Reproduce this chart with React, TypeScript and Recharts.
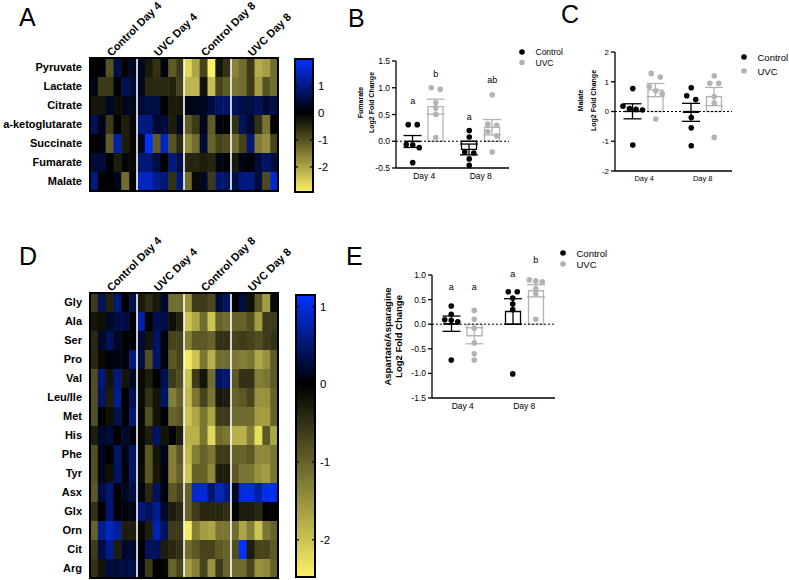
import React from 'react';
import {
  Bar,
  BarChart,
  ComposedChart,
  ErrorBar,
  Line,
  ReferenceDot,
  ReferenceLine,
  Scatter,
  ScatterChart,
  XAxis,
  YAxis,
} from 'recharts';

const FONT = '"Liberation Sans", Arial, Helvetica, sans-serif';
const GRAY = '#b3b3b3';
const BLUE = [0, 51, 255];
const YELLOW = [252, 242, 104];

// heat map columns: 4 groups x 6 samples
const groups = ['Control Day 4', 'UVC Day 4', 'Control Day 8', 'UVC Day 8'];
const samplesPerGroup = 6;
const scaleTicks = [1, 0, -1, -2];

// panel A - TCA intermediates (log2 fold change)
const tcaNames = ['Pyruvate', 'Lactate', 'Citrate', 'a-ketoglutarate', 'Succinate', 'Fumarate', 'Malate'];
const pyruvate = [0, 0.05, -1.0, 0.55, -0.05, 0.3, 0.25, -0.3, -0.6, 0.1, -1.1, -0.7, -2.6, -2.0, -0.8, -2.9, -0.25, -0.6, -1.6, -1.3, -0.7, -2.1, -1.9, -1.3];
const lactate = [0.2, -0.7, -0.7, 0, 0.6, 0.45, 0.2, -0.5, -0.5, -0.5, -0.4, -0.8, -2.2, -2.2, -0.2, -2.3, -0.8, -1.1, -1.4, -1.3, -0.7, -1.9, -1.0, -1.3];
const citrate = [-0.25, -0.25, 0.3, -0.15, 0.2, 0.2, 0.4, 0.5, 0.5, 0, -0.3, -0.3, 0.15, 0.2, 0.25, 0.45, 0.8, 0.8, 0.7, 0.55, 0.55, 0.7, 0.4, 0.55];
const aKetoglutarate = [0.7, 0.2, -0.7, 0, -0.35, -0.1, 1.0, 1.0, 0.35, 0.45, -0.35, 0.2, -1.1, -0.7, 0.2, -1.1, 0.05, 0, -0.6, 0.7, 0.35, -0.6, -1.4, 0];
const succinate = [0, 0.1, -1.1, 1.3, -0.35, -0.1, 0.2, 1.95, -1.1, 1.5, -1.0, -0.5, -1.7, -1.3, 0.45, -1.2, -0.8, -0.9, -1.3, -0.8, 0.9, -1.5, -1.7, -0.8];
const fumarateRow = [0.45, 0.45, 0, -0.35, -0.05, -0.1, 0.9, 0.9, 0.55, 0, 1.0, 0.55, -0.45, -0.45, -0.35, -0.45, 0.15, 0.05, -0.3, 0.15, 0.05, 0.45, 0.8, 0.5];
const malateRow = [1.0, 0, 0, 0.2, -1.3, 0, 1.5, 1.5, 1.1, 0.9, -0.6, 0.9, -1.3, -0.1, 0.3, -0.7, 0.9, 0.8, 0.55, 1.0, 1.0, 0.45, -0.9, 1.6];
const tcaMatrix = [pyruvate, lactate, citrate, aKetoglutarate, succinate, fumarateRow, malateRow];
const tcaRange: [number, number] = [-2.93, 2.0];

// panel D - amino acids
const aaNames = ['Gly', 'Ala', 'Ser', 'Pro', 'Val', 'Leu/Ile', 'Met', 'His', 'Phe', 'Tyr', 'Asx', 'Glx', 'Orn', 'Cit', 'Arg'];
const gly = [-0.6, 0.4, -0.35, 0.55, 0, 0.35, -0.25, -0.45, -0.25, 0.2, -1.1, -1.1, -1.5, -0.6, -0.6, -0.75, 0.25, 0.45, 0, 0.3, -0.15, -0.9, -1.6, -0.1];
const ala = [-0.2, -0.15, 0.2, 0.3, 0.3, 0, 0.75, 0, 0.35, 0.3, -0.15, -0.35, -2.0, -1.7, -1.1, -2.0, -1.0, -1.1, -1.0, -1.0, -0.8, -1.6, -0.6, -0.6];
const ser = [-0.4, 0.2, 0.4, 0.15, 0, 0, 0.25, -0.2, 0.45, 0.05, -0.7, -0.7, -1.3, -0.9, -0.9, -1.0, -0.5, -0.5, -0.7, -0.6, -0.7, -0.8, -0.6, -0.5];
const pro = [-0.4, -0.1, 0.05, 0.1, 0.05, 0.55, 0.3, -0.8, 0.45, 0.05, -0.9, -0.7, -2.4, -2.0, -1.2, -1.8, -1.1, -1.1, -1.2, -1.3, -1.2, -1.7, -1.5, -0.9];
const val = [-0.8, 0.55, -0.2, 0.55, -0.2, 0.15, -0.1, -0.3, 0, 0.35, -0.6, -0.8, -2.0, -0.6, -0.2, -1.1, 0.45, 0.5, -0.9, -0.5, -0.5, -1.3, -1.2, -0.9];
const leuIle = [-0.8, 0.45, -0.3, 0.65, 0, 0.35, -0.1, -0.5, -0.2, 0.45, -1.3, -1.0, -1.9, -1.2, -0.7, -1.2, -0.25, -0.3, -1.0, -0.9, -0.7, -1.5, -1.5, -1.0];
const met = [-0.8, 0, -0.15, 0.35, 0.05, 0.5, -0.05, -0.8, -0.2, 0, -1.0, -0.9, -2.0, -1.7, -1.2, -1.7, -0.6, -0.6, -1.1, -1.1, -1.1, -1.6, -1.6, -1.0];
const his = [-0.3, 0.2, 0.25, 0, 0.2, 0.05, -0.05, -0.3, 0.45, -0.2, 0, -0.3, -1.8, -1.8, -1.2, -2.2, -1.1, -1.2, -1.8, -1.8, -1.3, -2.3, -0.9, -1.7];
const phe = [-0.8, 0.15, 0, 0.45, 0.1, 0.45, -0.05, -0.9, -0.2, 0.1, -1.3, -0.9, -1.9, -1.3, -1.0, -1.2, -0.6, -0.6, -1.0, -1.0, -0.9, -1.4, -1.4, -1.2];
const tyr = [-0.8, 0.15, -0.15, 0.45, 0.05, 0.45, -0.1, -0.9, -0.25, 0.05, -1.3, -1.0, -2.0, -1.0, -1.0, -1.4, -0.3, -0.3, -0.9, -1.2, -1.2, -1.5, -1.6, -1.2];
const asx = [-0.9, 0.3, 0.5, 0, 0.15, 0.3, 0.05, -0.4, 0.4, 0.05, -0.9, -0.7, -1.0, 0.9, 0.95, 0.5, 0.85, 0.6, 0.15, 1.0, 1.0, 0.75, 1.05, 1.05];
const glx = [-0.5, 0, 0.5, 0, 0.05, 0.1, 0.55, 0.4, 0.65, 0.2, -0.3, -0.4, -1.0, -0.6, -0.4, -0.4, -0.4, -0.5, 0, -0.3, -0.3, -0.4, -0.05, 0];
const orn = [-1.0, 0.65, 0.85, 0.7, -0.3, -0.3, -0.05, -0.3, 0.8, 0.4, -0.6, -0.6, -2.4, -1.3, -1.6, -1.7, -1.2, -1.2, -1.1, -1.7, -1.3, -2.0, -1.2, -1.0];
const cit = [-0.6, 0.3, 0.65, -0.3, 0.2, 0.2, 0, 0.4, 0.4, -0.3, -0.4, -0.5, -1.1, -0.9, -0.7, -0.7, -0.9, -1.0, -0.8, 1.15, -0.3, -0.7, -0.7, -0.9];
const arg = [-0.5, -0.2, 0.3, 0.25, 0.3, 0.3, 0.05, -0.6, 0, -0.05, -1.0, -0.7, -1.6, -1.3, -0.7, -1.5, -0.6, -1.0, -1.1, -1.1, -0.7, -1.5, -1.4, -1.0];
const aaMatrix = [gly, ala, ser, pro, val, leuIle, met, his, phe, tyr, asx, glx, orn, cit, arg];
const aaRange: [number, number] = [-2.48, 1.15];

// dot/bar panels: one array per day
const days = ['Day 4', 'Day 8'];
const seriesNames = ['Control', 'UVC'];

const fumControl = [[0.31, 0.31, -0.06, -0.07, -0.12, -0.4], [0.2, 0.08, -0.2, -0.22, -0.33, -0.45]];
const fumUvc = [[1.0, 0.97, 0.72, 0.62, 0.5, 0.07], [0.87, 0.32, 0.3, 0.18, 0.1, -0.2]];
const fumLettersControl = ['a', 'a'];
const fumLettersUvc = ['b', 'ab'];
const fumLetterYControl = [0.75, 0.45];
const fumLetterYUvc = [1.25, 1.14];

const malControl = [[0.77, 0.18, 0.1, 0.07, 0.05, -1.13], [0.8, 0.53, 0.4, -0.2, -0.55, -1.15]];
const malUvc = [[1.28, 1.16, 0.83, 0.7, 0.6, -0.25], [1.2, 0.95, 0.95, 0.5, 0.28, -0.87]];

const aspControl = [[0.37, 0.2, 0.09, 0.08, 0.05, -0.73], [0.66, 0.66, 0.53, 0.41, 0.3, -1.01]];
const aspUvc = [[0.28, 0.1, -0.08, -0.38, -0.6, -0.73], [0.9, 0.88, 0.86, 0.72, 0.62, 0.1]];
const aspLettersControl = ['a', 'a'];
const aspLettersUvc = ['a', 'b'];
const aspLetterYControl = [0.75, 1.03];
const aspLetterYUvc = [0.75, 1.3];

function mix(c: number[], t: number) {
  return `rgb(${c.map((k) => Math.round(k * t)).join(',')})`;
}

function heatColor(v: number, lo: number, hi: number) {
  return v >= 0 ? mix(BLUE, Math.min(v / hi, 1)) : mix(YELLOW, Math.min(v / lo, 1));
}

const mean = (a: number[]) => a.reduce((s, v) => s + v, 0) / a.length;
const sem = (a: number[]) => {
  const m = mean(a);
  const sd = Math.sqrt(a.reduce((s, v) => s + (v - m) ** 2, 0) / (a.length - 1));
  return sd / Math.sqrt(a.length);
};

// horizontal spread for points that would overlap
function spread(values: number[], tol: number) {
  const order = values.map((_, i) => i).sort((a, b) => values[b] - values[a]);
  const off = values.map(() => 0);
  let start = 0;
  for (let k = 1; k <= order.length; k++) {
    if (k === order.length || values[order[k - 1]] - values[order[k]] > tol) {
      const n = k - start;
      const step = n === 2 ? 9 : 6.5;
      for (let j = start; j < k; j++) off[order[j]] = (j - start - (n - 1) / 2) * step;
      start = k;
    }
  }
  return off;
}

function GroupTick(props: any) {
  const { x, y, payload } = props;
  const g = Math.floor(payload.value / samplesPerGroup);
  return (
    <text
      transform={`translate(${x - 2},${y + 1}) rotate(-45)`}
      fontSize={11}
      fontWeight={700}
      fontFamily={FONT}
      fill="#000"
    >
      {groups[g]}
    </text>
  );
}

type HeatmapProps = {
  names: string[];
  matrix: number[][];
  range: [number, number];
  left: number;
  top: number;
};

function Heatmap({ names, matrix, range, left, top }: HeatmapProps) {
  const nCols = groups.length * samplesPerGroup;
  const plotW = 188;
  const plotH = names.length * 19;
  const headH = 58;
  const labelW = 90;
  const extraRight = 60;
  const cw = plotW / nCols;
  const ch = plotH / names.length;
  const cells = matrix.flatMap((row, r) => row.map((v, c) => ({ col: c + 0.5, row: r + 0.5, v })));
  const dividers = [1, 2, 3].map((g) => ({ col: g * samplesPerGroup, row: names.length / 2 }));
  const frame = [{ col: nCols / 2, row: names.length / 2 }];

  return (
    <div style={{ position: 'absolute', left, top }}>
      <ScatterChart
        width={labelW + plotW + extraRight}
        height={headH + plotH + 2}
        margin={{ top: 0, right: extraRight, bottom: 2, left: 0 }}
      >
        <XAxis
          type="number"
          dataKey="col"
          orientation="top"
          domain={[0, nCols]}
          ticks={groups.map((_, i) => (i + 0.5) * samplesPerGroup)}
          interval={0}
          height={headH}
          axisLine={false}
          tickLine={false}
          tickSize={0}
          tick={(p: any) => <GroupTick {...p} />}
        />
        <YAxis
          type="number"
          dataKey="row"
          domain={[0, names.length]}
          reversed
          ticks={names.map((_, i) => i + 0.5)}
          interval={0}
          width={labelW}
          axisLine={false}
          tickLine={false}
          tickSize={0}
          tickMargin={8}
          tickFormatter={(v: number) => names[Math.floor(v)]}
          tick={{ fontSize: 11, fontWeight: 700, fill: '#000', fontFamily: FONT }}
        />
        <Scatter
          data={cells}
          isAnimationActive={false}
          shape={(p: any) => (
            <rect
              x={p.cx - cw / 2}
              y={p.cy - ch / 2}
              width={cw + 0.5}
              height={ch + 0.5}
              fill={heatColor(p.payload.v, range[0], range[1])}
            />
          )}
        />
        <Scatter
          data={dividers}
          isAnimationActive={false}
          shape={(p: any) => (
            <line x1={p.cx} x2={p.cx} y1={p.cy - plotH / 2} y2={p.cy + plotH / 2} stroke="#fff" strokeWidth={1.6} />
          )}
        />
        <Scatter
          data={frame}
          isAnimationActive={false}
          shape={(p: any) => (
            <rect
              x={p.cx - plotW / 2}
              y={p.cy - plotH / 2}
              width={plotW}
              height={plotH}
              fill="none"
              stroke="#000"
              strokeWidth={2}
            />
          )}
        />
      </ScatterChart>
    </div>
  );
}

type ColorBarProps = { range: [number, number]; left: number; top: number; barW: number; barH: number; id: string };

function ColorBar({ range, left, top, barW, barH, id }: ColorBarProps) {
  const [lo, hi] = range;
  const zero = hi / (hi - lo);
  const data = [{ k: 'scale', span: [lo, hi] }];
  return (
    <div style={{ position: 'absolute', left: left - 1, top: top - 1 }}>
      <BarChart
        width={barW + 1 + 34}
        height={barH + 2}
        data={data}
        margin={{ top: 1, right: 0, bottom: 1, left: 1 }}
        barCategoryGap={0}
      >
        <defs>
          <linearGradient id={id} x1="0" y1="0" x2="0" y2="1">
            <stop offset="0" stopColor={mix(BLUE, 1)} />
            <stop offset={zero} stopColor="#000" />
            <stop offset="1" stopColor={mix(YELLOW, 1)} />
          </linearGradient>
        </defs>
        <XAxis dataKey="k" hide />
        <YAxis
          orientation="right"
          type="number"
          domain={[lo, hi]}
          ticks={scaleTicks}
          interval={0}
          width={34}
          axisLine={false}
          tickLine={false}
          tickSize={0}
          tickMargin={5}
          tick={(p: any) => (
            <g>
              <line x1={p.x - 5 - barW} x2={p.x - 5 - barW + 3} y1={p.y} y2={p.y} stroke="#000" strokeWidth={1.2} />
              <line x1={p.x - 8} x2={p.x - 5} y1={p.y} y2={p.y} stroke="#000" strokeWidth={1.2} />
              <text x={p.x} y={p.y} dy="0.36em" fontSize={11.5} fontFamily={FONT} fill="#000">
                {p.payload.value}
              </text>
            </g>
          )}
        />
        <Bar dataKey="span" fill={`url(#${id})`} stroke="#000" strokeWidth={2} isAnimationActive={false} />
      </BarChart>
    </div>
  );
}

type PanelProps = {
  left: number;
  plotTop: number;
  plotW: number;
  plotH: number;
  yw: number;
  domain: [number, number];
  ticks: number[];
  decimals: number;
  ctrl: number[][];
  uvc: number[][];
  title: string[];
  titleX: number[];
  titleDy: number;
  titleFont: number;
  tickFont: number;
  catFont: number;
  letters?: { ctrl: string[]; uvc: string[]; ctrlY: number[]; uvcY: number[] };
};

function DotBarPanel(props: PanelProps) {
  const { left, plotTop, plotW, plotH, yw, domain, ticks, decimals, ctrl, uvc, title, titleX, titleDy, titleFont, tickFont, catFont, letters } = props;
  const rows = days.map((day, d) => {
    const row: Record<string, any> = {
      day,
      cMean: mean(ctrl[d]),
      cSem: sem(ctrl[d]),
      uMean: mean(uvc[d]),
      uSem: sem(uvc[d]),
    };
    ctrl[d].forEach((v, i) => (row[`c${i}`] = v));
    uvc[d].forEach((v, i) => (row[`u${i}`] = v));
    return row;
  });
  const tol = 4.5 / (plotH / (domain[1] - domain[0]));
  const cOff = ctrl.map((g) => spread(g, tol));
  const uOff = uvc.map((g) => spread(g, tol));
  const half = 11.5;
  // extra room on top so the significance letters above the axis stay visible
  const margin = { top: 24, right: 4, bottom: 0, left: 0 };
  const axisStyle = { stroke: '#000', strokeWidth: 1.3 };

  const letterLabel = (txt: string, dx: number) => ({
    content: (p: any) => (
      <text x={p.viewBox.x + dx} y={p.viewBox.y + 3} textAnchor="middle" fontSize={9} fontFamily={FONT} fill="#000">
        {txt}
      </text>
    ),
  });

  return (
    <div style={{ position: 'absolute', left, top: plotTop - margin.top }}>
      <ComposedChart
        width={yw + plotW + margin.right}
        height={margin.top + plotH + 20}
        data={rows}
        margin={margin}
        barGap={8}
        barCategoryGap={0}
      >
        <XAxis
          dataKey="day"
          height={20}
          axisLine={axisStyle}
          tickLine={false}
          tickSize={3}
          tickMargin={2}
          tick={{ fontSize: catFont, fill: '#000', fontFamily: FONT }}
        />
        <YAxis
          domain={domain}
          ticks={ticks}
          interval={0}
          width={yw}
          axisLine={axisStyle}
          tickLine={axisStyle}
          tickSize={4}
          tickMargin={2}
          tickFormatter={(v: number) => v.toFixed(decimals)}
          tick={{ fontSize: tickFont, fill: '#000', fontFamily: FONT }}
          label={{
            content: (p: any) => {
              const vb = p.viewBox;
              const cy = vb.y + vb.height / 2 + titleDy;
              return (
                <g>
                  {title.map((t, i) => (
                    <text
                      key={t}
                      transform={`translate(${vb.x + titleX[i]},${cy}) rotate(-90)`}
                      textAnchor="middle"
                      dominantBaseline="central"
                      fontSize={titleFont}
                      fontWeight={700}
                      fontFamily={FONT}
                      fill="#000"
                    >
                      {t}
                    </text>
                  ))}
                </g>
              );
            },
          }}
        />
        <ReferenceLine y={0} stroke="#000" strokeDasharray="2 2" strokeWidth={1} />
        <Bar dataKey="cMean" barSize={15} fill="none" stroke="#000" strokeWidth={1.3} isAnimationActive={false}>
          <ErrorBar dataKey="cSem" width={9} stroke="#000" strokeWidth={1.3} direction="y" />
        </Bar>
        <Bar dataKey="uMean" barSize={15} fill="none" stroke={GRAY} strokeWidth={1.3} isAnimationActive={false}>
          <ErrorBar dataKey="uSem" width={9} stroke={GRAY} strokeWidth={1.3} direction="y" />
        </Bar>
        {ctrl[0].map((_, i) => (
          <Line
            key={`c${i}`}
            dataKey={`c${i}`}
            stroke="none"
            isAnimationActive={false}
            activeDot={false}
            legendType="none"
            dot={(p: any) => (
              <circle key={`c${i}-${p.index}`} cx={p.cx - half + cOff[p.index][i]} cy={p.cy} r={2.8} fill="#000" />
            )}
          />
        ))}
        {uvc[0].map((_, i) => (
          <Line
            key={`u${i}`}
            dataKey={`u${i}`}
            stroke="none"
            isAnimationActive={false}
            activeDot={false}
            legendType="none"
            dot={(p: any) => (
              <circle key={`u${i}-${p.index}`} cx={p.cx + half + uOff[p.index][i]} cy={p.cy} r={2.8} fill={GRAY} />
            )}
          />
        ))}
        {letters &&
          days.map((day, d) => (
            <ReferenceDot
              key={`lc${d}`}
              x={day}
              y={letters.ctrlY[d]}
              r={0}
              fill="none"
              stroke="none"
              ifOverflow="visible"
              label={letterLabel(letters.ctrl[d], -half)}
            />
          ))}
        {letters &&
          days.map((day, d) => (
            <ReferenceDot
              key={`lu${d}`}
              x={day}
              y={letters.uvcY[d]}
              r={0}
              fill="none"
              stroke="none"
              ifOverflow="visible"
              label={letterLabel(letters.uvc[d], half)}
            />
          ))}
      </ComposedChart>
    </div>
  );
}

function SeriesLegend({ x, y, gap, font }: { x: number; y: number; gap: number; font: number }) {
  const colors = ['#000', GRAY];
  return (
    <svg
      style={{ position: 'absolute', left: x - 5, top: y - 8, overflow: 'visible' }}
      width={60}
      height={gap + 16}
    >
      {seriesNames.map((name, i) => (
        <g key={name}>
          <circle cx={5} cy={8 + i * gap} r={2.8} fill={colors[i]} />
          <text x={18.5} y={8 + i * gap} dominantBaseline="central" fontSize={font} fontFamily={FONT} fill="#000">
            {name}
          </text>
        </g>
      ))}
    </svg>
  );
}

export default function App() {
  return (
    <div
      style={{
        position: 'absolute',
        left: 0,
        top: 0,
        width: 789,
        height: 580,
        background: '#fff',
        overflow: 'hidden',
        fontFamily: FONT,
      }}
    >
      <Heatmap names={tcaNames} matrix={tcaMatrix} range={tcaRange} left={0} top={0} />
      <ColorBar range={tcaRange} left={295} top={59} barW={18} barH={133} id="gradA" />

      <Heatmap names={aaNames} matrix={aaMatrix} range={aaRange} left={0} top={235} />
      <ColorBar range={aaRange} left={296} top={295} barW={19} barH={282} id="gradD" />

      <DotBarPanel
        left={351}
        plotTop={61}
        plotW={113}
        plotH={107}
        yw={45}
        domain={[-0.5, 1.5]}
        ticks={[-0.5, 0, 0.5, 1, 1.5]}
        decimals={1}
        ctrl={fumControl}
        uvc={fumUvc}
        title={['Fumarate', 'Log2 Fold Change']}
        titleX={[9, 20]}
        titleDy={-12}
        titleFont={7}
        tickFont={8.5}
        catFont={8.5}
        letters={{ ctrl: fumLettersControl, uvc: fumLettersUvc, ctrlY: fumLetterYControl, uvcY: fumLetterYUvc }}
      />
      <SeriesLegend x={522} y={52} gap={10.5} font={8.5} />

      <DotBarPanel
        left={570}
        plotTop={52}
        plotW={117}
        plotH={119}
        yw={45}
        domain={[-2, 2]}
        ticks={[-2, -1, 0, 1, 2]}
        decimals={0}
        ctrl={malControl}
        uvc={malUvc}
        title={['Malate', 'Log2 Fold Change']}
        titleX={[10, 23]}
        titleDy={-11}
        titleFont={7}
        tickFont={8}
        catFont={7.5}
      />
      <SeriesLegend x={744} y={57} gap={14} font={9.5} />

      <DotBarPanel
        left={380}
        plotTop={275}
        plotW={123}
        plotH={123}
        yw={52}
        domain={[-1.5, 1]}
        ticks={[-1.5, -1, -0.5, 0, 0.5, 1]}
        decimals={1}
        ctrl={aspControl}
        uvc={aspUvc}
        title={['Aspartate/Asparagine', 'Log2 Fold Change']}
        titleX={[7, 18]}
        titleDy={0}
        titleFont={9.5}
        tickFont={8.5}
        catFont={8.5}
        letters={{ ctrl: aspLettersControl, uvc: aspLettersUvc, ctrlY: aspLetterYControl, uvcY: aspLetterYUvc }}
      />
      <SeriesLegend x={563} y={253} gap={11} font={9.5} />

      <svg style={{ position: 'absolute', left: 0, top: 0, pointerEvents: 'none' }} width={789} height={580}>
        <g fontFamily={FONT} fontSize={25} fill="#000">
          <text x={19} y={26}>A</text>
          <text x={348} y={27}>B</text>
          <text x={561} y={23}>C</text>
          <text x={19} y={265}>D</text>
          <text x={346} y={265}>E</text>
        </g>
      </svg>
    </div>
  );
}
